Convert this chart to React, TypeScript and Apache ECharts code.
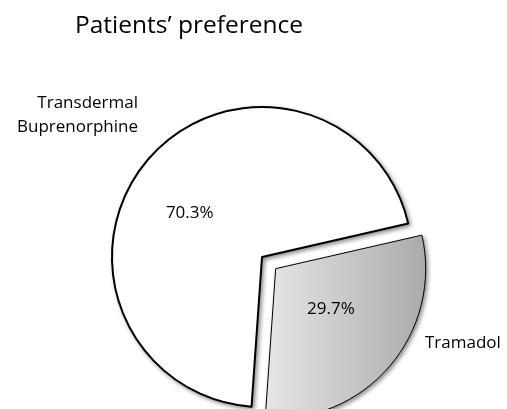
import React, { useEffect, useRef } from "react";
import * as echarts from "echarts";

const categories = ["Transdermal\nBuprenorphine", "Tramadol"];
const values = [70.3, 29.7];
const titleText = "Patients\u2019 preference";

export default function App() {
  const ref = useRef<HTMLDivElement>(null);
  useEffect(() => {
    if (!ref.current) return;
    const chart = echarts.init(ref.current, undefined, { renderer: "svg" });
    const font = "'Open Sans', 'Liberation Sans', sans-serif";
    const itemStyles = [
      { color: "#ffffff", borderColor: "#000000", borderWidth: 2 },
      {
        color: new echarts.graphic.LinearGradient(0, 0, 1, 0, [
          { offset: 0, color: "#e6e6e6" },
          { offset: 1, color: "#ababab" },
        ]),
        borderColor: "#000000",
        borderWidth: 1,
      },
    ];
    const center = [262, 257];
    chart.setOption({
      animation: false,
      title: {
        text: titleText,
        left: 184,
        top: 6,
        textAlign: "center",
        textStyle: { fontFamily: font, fontSize: 24.5, fontWeight: "normal", color: "#000" },
      },
      series: [
        {
          type: "pie",
          center,
          radius: 150,
          startAngle: 266,
          selectedMode: "single",
          selectedOffset: 18,
          data: categories.map((name, i) => ({
            name,
            value: values[i],
            selected: i === 1,
            itemStyle: {
              ...itemStyles[i],
              shadowBlur: 4,
              shadowOffsetX: 2,
              shadowOffsetY: 2,
              shadowColor: "rgba(0,0,0,0.45)",
            },
          })),
          label: {
            position: "inside",
            formatter: "{c}%",
            fontFamily: font,
            fontSize: 17,
            color: "#000",
          },
          labelLayout: (p: any) =>
            p.dataIndex === 0 ? { dx: -13, dy: 5 } : { dx: -4, dy: -12 },
          emphasis: { disabled: true },
          silent: true,
        },
        {
          type: "pie",
          center,
          radius: 150,
          startAngle: 266,
          data: categories.map((name, i) => ({
            name,
            value: values[i],
            itemStyle: { color: "rgba(0,0,0,0)", borderWidth: 0 },
          })),
          label: {
            position: "outside",
            formatter: "{b}",
            fontFamily: font,
            fontSize: 17,
            lineHeight: 24,
            color: "#000",
          },
          labelLine: { show: false, length: 0, length2: 0 },
          labelLayout: (p: any) =>
            p.dataIndex === 0
              ? { x: 138, y: 113, align: "right", verticalAlign: "middle" }
              : { x: 425, y: 341, align: "left", verticalAlign: "middle" },
          emphasis: { disabled: true },
          silent: true,
        },
      ],
    });
    return () => chart.dispose();
  }, []);
  return (
    <div
      ref={ref}
      style={{ position: "fixed", left: 0, top: 0, width: 507, height: 409 }}
    />
  );
}
